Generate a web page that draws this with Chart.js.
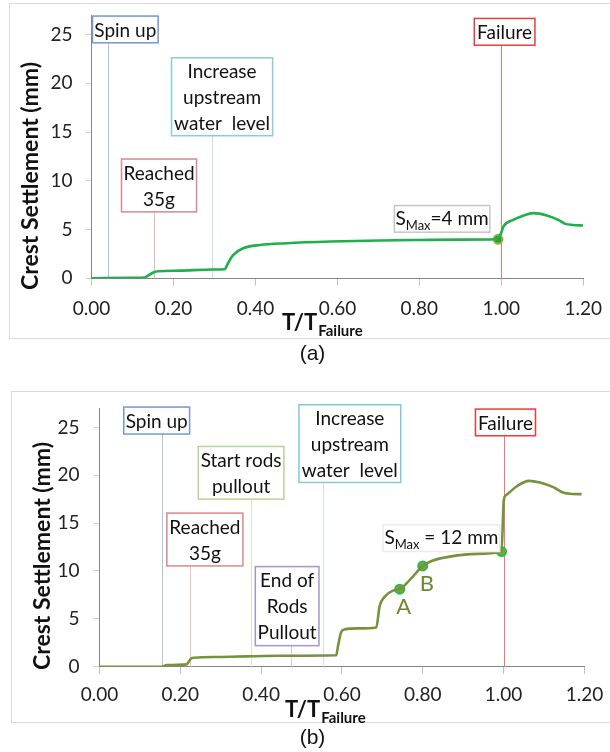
<!DOCTYPE html>
<html>
<head>
<meta charset="utf-8">
<script src="https://cdn.jsdelivr.net/npm/chart.js@4.4.1/dist/chart.umd.min.js"></script>
<style>
  body { margin: 0; background: #fff; width: 610px; height: 752px; overflow: hidden; position: relative; }
  .frame { position: absolute; border: 1px solid #d9d9d9; }
  canvas { position: absolute; left: 0; }
</style>
</head>
<body>
<div class="frame" style="left:9px;top:3px;width:640px;height:334px"></div>
<div class="frame" style="left:11px;top:391px;width:640px;height:330px"></div>
<canvas id="chartA" style="top:0" width="610" height="370"></canvas>
<canvas id="chartB" style="top:375px" width="610" height="377"></canvas>
<script>
// ---- data: panel (a) ----
const timeA = [0, 0.10, 0.13, 0.134, 0.152, 0.163, 0.216, 0.297, 0.325, 0.333, 0.346, 0.37, 0.411, 0.476, 0.582, 0.704, 0.80, 0.90, 0.989, 1.0, 1.005, 1.029, 1.055, 1.078, 1.111, 1.139, 1.156, 1.175, 1.2]
const settleA = [0, 0.05, 0.08, 0.17, 0.62, 0.72, 0.79, 0.9, 0.93, 1.54, 2.4, 3.08, 3.42, 3.6, 3.77, 3.88, 3.93, 3.97, 4.0, 4.69, 5.3, 5.99, 6.45, 6.68, 6.44, 5.99, 5.58, 5.47, 5.41]
const markTimeA = [0.992]
const markSettleA = [4.0]
const eventTimeA = [0.04, 0.152, 0.293, 1.0]
const eventTextA = [['Spin up'], ['Reached', '35g'], ['Increase', 'upstream', 'water  level'], ['Failure']]
const smaxTextA = ['S', 'Max', '=4 mm']

// ---- data: panel (b) ----
const timeB = [0, 0.153, 0.167, 0.215, 0.227, 0.235, 0.30, 0.363, 0.45, 0.586, 0.59, 0.598, 0.607, 0.64, 0.685, 0.693, 0.706, 0.726, 0.743, 0.768, 0.80, 0.825, 0.867, 0.933, 0.995, 1.0005, 1.007, 1.032, 1.063, 1.09, 1.123, 1.147, 1.17, 1.193]
const settleB = [0, 0, 0.17, 0.24, 0.87, 0.94, 1.02, 1.08, 1.14, 1.19, 2.1, 3.6, 3.9, 4.0, 4.1, 6.28, 7.32, 7.95, 8.1, 9.07, 10.53, 11.09, 11.5, 11.79, 12.03, 17.4, 17.96, 18.83, 19.42, 19.25, 18.76, 18.2, 18.05, 18.03]
const markTimeB = [0.743, 0.80, 0.995]
const markSettleB = [8.1, 10.53, 12.03]
const markLabelB = ['A', 'B', '']
const eventTimeB = [0.154, 0.225, 0.375, 0.475, 0.553, 1.0]
const eventTextB = [['Spin up'], ['Reached', '35g'], ['Start rods', 'pullout'], ['End of', 'Rods', 'Pullout'], ['Increase', 'upstream', 'water  level'], ['Failure']]
const smaxTextB = ['S', 'Max', ' = 12 mm']

// ---- axes ----
const xTicks = [0, 0.2, 0.4, 0.6, 0.8, 1.0, 1.2]
const yTicks = [0, 5, 10, 15, 20, 25]

// ---- annotation layout (box corners in axis units: x0, x1, yTop, yBottom) ----
const boxesA = [
  {box: [0.0024, 0.1626, 26.89, 24.15], line: '#a9c4e6', edge: '#7099d3'},
  {box: [0.0732, 0.2563, 12.23, 6.81], line: '#e8b8b8', edge: '#d68a8a'},
  {box: [0.1953, 0.4419, 22.61, 14.62], line: '#c2e2ec', edge: '#8ccade'},
  {box: [0.934, 1.082, 26.65, 23.9], line: '#f27676', edge: '#f03a3a'}
]
const smaxBoxA = {box: [0.739, 0.972, 7.46, 4.73], edge: '#c6c6c6'}
const boxesB = [
  {box: [0.060, 0.223, 27.13, 24.31], line: '#a9c4e6', edge: '#7099d3'},
  {box: [0.1667, 0.3549, 16.05, 10.53], line: '#ebc4c4', edge: '#d68a8a'},
  {box: [0.2444, 0.4564, 23.01, 17.51], line: '#dbe6c3', edge: '#bcd293'},
  {box: [0.3856, 0.5431, 10.46, 2.2], line: '#d3cae3', edge: '#a595c9'},
  {box: [0.4936, 0.7454, 27.37, 19.25], line: '#c9e6ef', edge: '#86c6db'},
  {box: [0.9304, 1.079, 26.92, 24.13], line: '#f27676', edge: '#f03a3a'}
]
const smaxBoxB = {box: [0.7016, 0.9906, 14.82, 12.03], edge: '#ececec'}

const FONT = 'Lato'

function richText(ctx, parts, cx, baseY) {
  const fonts = ['19px ' + FONT, '13px ' + FONT, '19px ' + FONT]
  const dys = [0, 5, 0]
  let w = 0
  parts.forEach((p, i) => { ctx.font = fonts[i]; w += ctx.measureText(p).width })
  let x = cx - w / 2
  ctx.textAlign = 'left'
  ctx.textBaseline = 'alphabetic'
  parts.forEach((p, i) => {
    ctx.font = fonts[i]
    ctx.fillText(p, x, baseY + dys[i])
    x += ctx.measureText(p).width
  })
}

function makeAnnotator(cfg) {
  return {
    id: 'annot' + cfg.tag,
    beforeDatasetsDraw(chart) {
      const {ctx, scales: {x, y}} = chart
      ctx.save()
      ctx.lineWidth = 1
      cfg.times.forEach((t, i) => {
        const px = Math.round(x.getPixelForValue(t)) + 0.5
        ctx.strokeStyle = cfg.boxes[i].line
        ctx.beginPath()
        ctx.moveTo(px, y.getPixelForValue(0))
        ctx.lineTo(px, y.getPixelForValue(cfg.boxes[i].box[3]))
        ctx.stroke()
      })
      ctx.restore()
    },
    afterDatasetsDraw(chart) {
      const {ctx, scales: {x, y}} = chart
      ctx.save()
      const drawBox = (b, edge) => {
        const l = x.getPixelForValue(b[0]), r = x.getPixelForValue(b[1])
        const t = y.getPixelForValue(b[2]), btm = y.getPixelForValue(b[3])
        ctx.fillStyle = '#fff'
        ctx.fillRect(l, t, r - l, btm - t)
        ctx.strokeStyle = edge
        ctx.lineWidth = 1.5
        ctx.strokeRect(l, t, r - l, btm - t)
        return {l, r, t, btm}
      }
      cfg.boxes.forEach((bx, i) => {
        const p = drawBox(bx.box, bx.edge)
        const lines = cfg.texts[i]
        const cy = (p.t + p.btm) / 2
        ctx.fillStyle = '#111'
        ctx.font = '19px ' + FONT
        ctx.textAlign = 'center'
        ctx.textBaseline = 'middle'
        lines.forEach((s, k) => {
          ctx.fillText(s, (p.l + p.r) / 2, cy + (k - (lines.length - 1) / 2) * 26 + 1)
        })
      })
      const sp = drawBox(cfg.smax.box, cfg.smax.edge)
      ctx.fillStyle = '#111'
      richText(ctx, cfg.smaxText, (sp.l + sp.r) / 2, (sp.t + sp.btm) / 2 + 6)

      // point labels A / B
      if (cfg.markLabels) {
        ctx.fillStyle = '#6a8a32'
        ctx.font = '22px ' + FONT
        ctx.textAlign = 'center'
        ctx.textBaseline = 'middle'
        cfg.markLabels.forEach((s, i) => {
          if (!s) return
          ctx.fillText(s, x.getPixelForValue(cfg.markTimes[i]) + 4, y.getPixelForValue(cfg.markSettles[i]) + 18)
        })
      }

      // axis titles
      ctx.fillStyle = '#111'
      ctx.save()
      ctx.translate(cfg.yTitle[0], cfg.yTitle[1])
      ctx.rotate(-Math.PI / 2)
      ctx.font = 'bold 23px ' + FONT
      ctx.textAlign = 'center'
      ctx.textBaseline = 'middle'
      ctx.fillText('Crest Settlement (mm)', 0, 0)
      ctx.restore()

      ctx.textAlign = 'left'
      ctx.textBaseline = 'alphabetic'
      ctx.font = 'bold 22px ' + FONT
      ctx.fillText('T/T', cfg.xTitle[0], cfg.xTitle[1])
      const w = ctx.measureText('T/T').width
      ctx.font = 'bold 15px ' + FONT
      ctx.fillText('Failure', cfg.xTitle[0] + w + 1, cfg.xTitle[1] + 6)

      ctx.font = '21px "Liberation Sans"'
      ctx.textAlign = 'center'
      ctx.textBaseline = 'middle'
      ctx.fillText(cfg.panel, cfg.panelPos[0], cfg.panelPos[1])
      ctx.restore()
    }
  }
}

function makeChart(id, L, series, marks, cfg) {
  const pts = series.t.map((t, i) => ({x: t, y: series.s[i]}))
  const mpts = marks.t.map((t, i) => ({x: t, y: marks.s[i]}))
  return new Chart(document.getElementById(id), {
    type: 'scatter',
    data: {
      datasets: [
        {data: pts, showLine: true, borderColor: series.color, borderWidth: 2.6, pointRadius: 0,
         cubicInterpolationMode: 'monotone', fill: false},
        {data: mpts, showLine: false, pointRadius: 4.5, pointBorderWidth: 2,
         pointBackgroundColor: marks.fill, pointBorderColor: marks.edge}
      ]
    },
    options: {
      responsive: false, animation: false, events: [],
      layout: {padding: {left: 0, right: L.right, top: L.top, bottom: 0}},
      plugins: {legend: {display: false}, tooltip: {enabled: false}},
      scales: {
        x: {
          type: 'linear', min: 0, max: 1.2,
          afterBuildTicks: s => { s.ticks = xTicks.map(v => ({value: v})) },
          afterFit: s => { s.height = L.xh; s.paddingLeft = 0; s.paddingRight = 0 },
          grid: {drawOnChartArea: false, drawTicks: true, tickLength: 7, color: '#bfbfbf'},
          border: {color: '#868686', width: 1},
          ticks: {padding: L.xpad, color: '#222', font: {family: FONT, size: 19},
                  maxRotation: 0, autoSkip: false, callback: v => Number(v).toFixed(2)}
        },
        y: {
          min: 0, max: 27,
          afterBuildTicks: s => { s.ticks = yTicks.map(v => ({value: v})) },
          afterFit: s => { s.width = L.yw; s.paddingTop = 0; s.paddingBottom = 0 },
          grid: {drawOnChartArea: false, drawTicks: true, tickLength: 6, color: '#d0d0d0'},
          border: {color: '#868686', width: 1},
          ticks: {padding: L.ypad, color: '#222', font: {family: FONT, size: 19}}
        }
      }
    },
    plugins: [makeAnnotator(cfg)]
  })
}

makeChart('chartA',
  {right: 26.7, top: 15, xh: 91.7, yw: 91.5, xpad: 12, ypad: 13},
  {t: timeA, s: settleA, color: '#1fb04c'},
  {t: markTimeA, s: markSettleA, fill: '#2f9a3a', edge: '#9fb13e'},
  {tag: 'A', times: eventTimeA, texts: eventTextA, boxes: boxesA, smax: smaxBoxA, smaxText: smaxTextA,
   yTitle: [31, 176], xTitle: [282, 330], panel: '(a)', panelPos: [312.5, 354]})

makeChart('chartB',
  {right: 25.6, top: 33.3, xh: 85.3, yw: 99.5, xpad: 10, ypad: 14},
  {t: timeB, s: settleB, color: '#76923c'},
  {t: markTimeB, s: markSettleB, fill: '#8a9c3c', edge: '#1fbf50', labels: markLabelB},
  {tag: 'B', times: eventTimeB, texts: eventTextB, boxes: boxesB, smax: smaxBoxB, smaxText: smaxTextB,
   markTimes: markTimeB, markSettles: markSettleB, markLabels: markLabelB,
   yTitle: [43, 181], xTitle: [285, 341.7], panel: '(b)', panelPos: [312.5, 363.7]})
</script>
</body>
</html>
